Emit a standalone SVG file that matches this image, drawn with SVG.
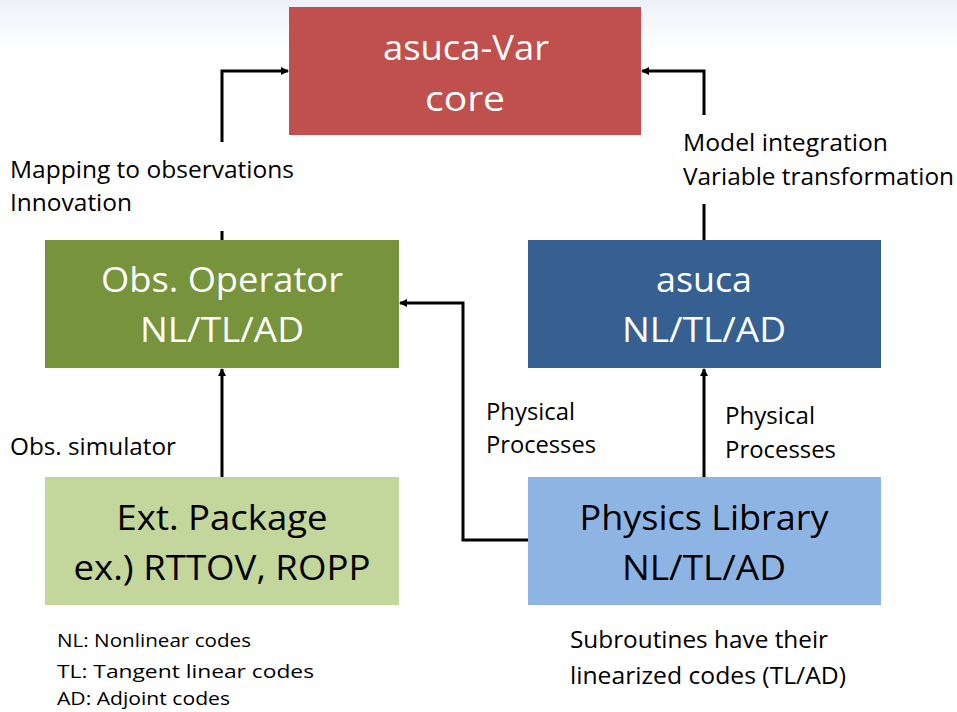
<svg xmlns="http://www.w3.org/2000/svg" width="957" height="712" viewBox="0 0 957 712">
<defs>
<linearGradient id="bg" x1="0" y1="0" x2="0" y2="1">
<stop offset="0" stop-color="#EDF1F7"/>
<stop offset="1" stop-color="#FFFFFF"/>
</linearGradient>
<marker id="arr" markerWidth="8" markerHeight="8" refX="7" refY="4" orient="auto" markerUnits="userSpaceOnUse" viewBox="0 0 8 8">
<path d="M0,0 L8,4 L0,8 z" fill="#000"/>
</marker>
<style>
.big{font-family:"Open Sans","Noto Sans","Liberation Sans",sans-serif;font-size:34px;fill:#fff;text-anchor:middle}
.bigd{font-family:"Open Sans","Noto Sans","Liberation Sans",sans-serif;font-size:34px;fill:#000;text-anchor:middle}
.lbl{font-family:"Open Sans","Noto Sans","Liberation Sans",sans-serif;font-size:23px;fill:#000}
.note{font-family:"Open Sans","Noto Sans","Liberation Sans",sans-serif;font-size:19px;fill:#000}
.conn{stroke:#000;stroke-width:3;fill:none}
</style>
</defs>
<rect x="0" y="0" width="957" height="50" fill="url(#bg)"/>
<rect x="0" y="50" width="957" height="662" fill="#fff"/>

<g id="core">
<rect x="289" y="7" width="352" height="128" fill="#C0504D"/>
<text class="big" x="466" y="60" textLength="166" lengthAdjust="spacingAndGlyphs">asuca-Var</text>
<text class="big" x="465" y="111" textLength="80" lengthAdjust="spacingAndGlyphs">core</text>
</g>
<g id="obsop">
<rect x="45" y="240" width="354" height="128" fill="#77933C"/>
<text class="big" x="222" y="292" textLength="242" lengthAdjust="spacingAndGlyphs">Obs. Operator</text>
<text class="big" x="222" y="342" textLength="164" lengthAdjust="spacingAndGlyphs">NL/TL/AD</text>
</g>
<g id="asuca">
<rect x="528" y="240" width="353" height="128" fill="#366092"/>
<text class="big" x="704" y="292" textLength="96" lengthAdjust="spacingAndGlyphs">asuca</text>
<text class="big" x="704" y="342" textLength="164" lengthAdjust="spacingAndGlyphs">NL/TL/AD</text>
</g>
<g id="ext">
<rect x="45" y="477" width="354" height="128" fill="#C3D69B"/>
<text class="bigd" x="222" y="530" textLength="211" lengthAdjust="spacingAndGlyphs">Ext. Package</text>
<text class="bigd" x="222" y="580" textLength="297" lengthAdjust="spacingAndGlyphs">ex.) RTTOV, ROPP</text>
</g>
<g id="physlib">
<rect x="528" y="477" width="353" height="128" fill="#8EB4E3"/>
<text class="bigd" x="704" y="530" textLength="249" lengthAdjust="spacingAndGlyphs">Physics Library</text>
<text class="bigd" x="704" y="580" textLength="164" lengthAdjust="spacingAndGlyphs">NL/TL/AD</text>
</g>

<g id="connectors">
<path class="conn" d="M222,240 L222,231"/>
<path class="conn" d="M222,142 L222,71 L288,71" marker-end="url(#arr)"/>
<path class="conn" d="M704,240 L704,204"/>
<path class="conn" d="M704,115 L704,71 L642,71" marker-end="url(#arr)"/>
<path class="conn" d="M222,477 L222,369" marker-end="url(#arr)"/>
<path class="conn" d="M704,477 L704,369" marker-end="url(#arr)"/>
<path class="conn" d="M528,540 L463,540 L463,303 L400,303" marker-end="url(#arr)"/>
</g>

<g id="labels">
<text class="lbl" x="10" y="178" textLength="284" lengthAdjust="spacingAndGlyphs">Mapping to observations</text>
<text class="lbl" x="10" y="211" textLength="122" lengthAdjust="spacingAndGlyphs">Innovation</text>
<text class="lbl" x="683" y="151" textLength="205" lengthAdjust="spacingAndGlyphs">Model integration</text>
<text class="lbl" x="683" y="185" textLength="271" lengthAdjust="spacingAndGlyphs">Variable transformation</text>
<text class="lbl" x="486" y="420" textLength="89" lengthAdjust="spacingAndGlyphs">Physical</text>
<text class="lbl" x="486" y="453" textLength="110" lengthAdjust="spacingAndGlyphs">Processes</text>
<text class="lbl" x="725" y="424" textLength="90" lengthAdjust="spacingAndGlyphs">Physical</text>
<text class="lbl" x="725" y="458" textLength="111" lengthAdjust="spacingAndGlyphs">Processes</text>
<text class="lbl" x="10" y="455" textLength="166" lengthAdjust="spacingAndGlyphs">Obs. simulator</text>
<text class="lbl" x="570" y="648" textLength="258" lengthAdjust="spacingAndGlyphs">Subroutines have their</text>
<text class="lbl" x="570" y="684" textLength="276" lengthAdjust="spacingAndGlyphs">linearized codes (TL/AD)</text>
<text class="note" x="57" y="647" textLength="194" lengthAdjust="spacingAndGlyphs">NL: Nonlinear codes</text>
<text class="note" x="57" y="678" textLength="257" lengthAdjust="spacingAndGlyphs">TL: Tangent linear codes</text>
<text class="note" x="57" y="705" textLength="173" lengthAdjust="spacingAndGlyphs">AD: Adjoint codes</text>
</g>
</svg>
